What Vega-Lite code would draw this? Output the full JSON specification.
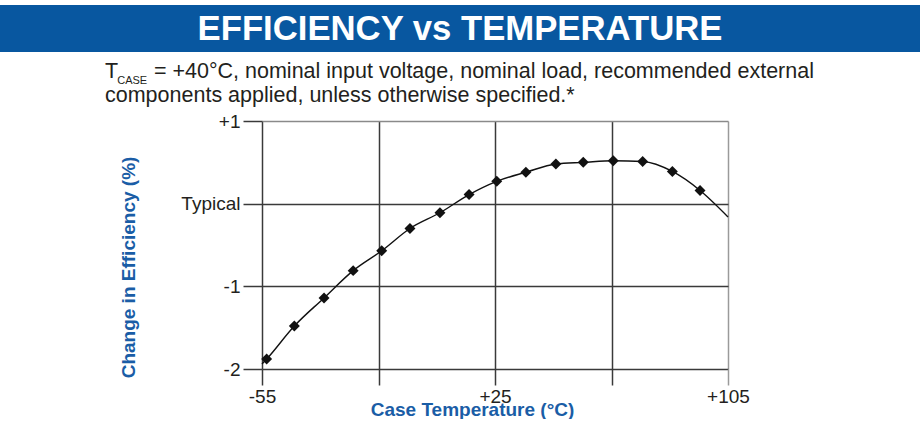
{
  "$schema": "https://vega.github.io/schema/vega-lite/v6.json",
  "background": "white",
  "padding": {"top": 5, "left": 0, "right": 0, "bottom": 0},
  "spacing": 8,
  "config": {"font": "Liberation Sans"},
  "datasets": {
    "curve": [
      {"temp": -55, "change": -1.94, "m": 0},
      {"temp": -53.4, "change": -1.88, "m": 1},
      {"temp": -43.9, "change": -1.48, "m": 1},
      {"temp": -33.7, "change": -1.14, "m": 1},
      {"temp": -23.7, "change": -0.81, "m": 1},
      {"temp": -13.9, "change": -0.57, "m": 1},
      {"temp": -4.2, "change": -0.30, "m": 1},
      {"temp": 6.1, "change": -0.11, "m": 1},
      {"temp": 16.1, "change": 0.11, "m": 1},
      {"temp": 25.6, "change": 0.27, "m": 1},
      {"temp": 35.6, "change": 0.38, "m": 1},
      {"temp": 45.9, "change": 0.48, "m": 1},
      {"temp": 55.3, "change": 0.50, "m": 1},
      {"temp": 65.6, "change": 0.52, "m": 1},
      {"temp": 75.7, "change": 0.51, "m": 1},
      {"temp": 85.9, "change": 0.39, "m": 1},
      {"temp": 95.4, "change": 0.16, "m": 1},
      {"temp": 105, "change": -0.16, "m": 0}
    ]
  },
  "vconcat": [
    {
      "width": 920,
      "height": 47,
      "view": {"fill": "#0857a0", "stroke": null},
      "data": {"values": [{"t": "EFFICIENCY vs TEMPERATURE"}]},
      "mark": {"type": "text", "font": "Liberation Sans", "fontSize": 34.7, "fontWeight": "bold", "color": "white", "align": "center", "baseline": "middle", "dy": 1},
      "encoding": {"text": {"field": "t", "type": "nominal"}}
    },
    {
      "spacing": 0,
      "hconcat": [
        {
          "width": 105,
          "height": 10,
          "view": {"stroke": null},
          "data": {"values": [{"t": ""}]},
          "mark": {"type": "text"},
          "encoding": {"text": {"field": "t", "type": "nominal"}}
        },
        {
          "width": 466,
          "height": 248,
          "view": {"stroke": null},
          "title": {
            "text": ["T\u00a0\u00a0\u00a0\u00a0\u00a0\u00a0= +40°C, nominal input voltage, nominal load, recommended external", "components applied, unless otherwise specified.*"],
            "subtitle": "\u200b\u00a0\u00a0\u00a0\u00a0CASE",
            "anchor": "start",
            "frame": "group",
            "dx": -157,
            "offset": 6,
            "font": "Liberation Sans",
            "fontSize": 21.5,
            "fontWeight": "normal",
            "color": "#231f20",
            "lineHeight": 24,
            "subtitleFont": "Liberation Sans",
            "subtitleFontSize": 11,
            "subtitleColor": "#231f20",
            "subtitlePadding": -31
          },
          "data": {"name": "curve"},
          "encoding": {
            "x": {
              "field": "temp", "type": "quantitative",
              "scale": {"domain": [-55, 105], "nice": false, "zero": false},
              "title": "Case Temperature (°C)",
              "axis": {
                "values": [-55, -15, 25, 65, 105],
                "labelExpr": "datum.value == -55 ? '-55' : datum.value == 25 ? '+25' : datum.value == 105 ? '+105' : ''",
                "grid": true,
                "gridColor": {"condition": {"test": "datum.value == 105", "value": "#9a9a9a"}, "value": "#3a3a3a"},
                "gridWidth": 1.5,
                "gridOpacity": 1,
                "domain": false,
                "ticks": true,
                "tickSize": 16,
                "tickWidth": 1.5,
                "tickColor": {"condition": {"test": "datum.value == 105", "value": "#9a9a9a"}, "value": "#3a3a3a"},
                "labelFontSize": 19,
                "labelColor": "#231f20",
                "labelPadding": 2,
                "labelFlush": false,
                "labelOverlap": false,
                "titleFontSize": 19,
                "titleFontWeight": "bold",
                "titleColor": "#1a5da6",
                "titleX": 210,
                "titleY": 31
              }
            },
            "y": {
              "field": "change", "type": "quantitative",
              "scale": {"domain": [-2, 1], "nice": false, "zero": false},
              "title": "Change in Efficiency (%)",
              "axis": {
                "values": [-2, -1, 0, 1],
                "labelExpr": "datum.value == 1 ? '+1' : datum.value == 0 ? 'Typical' : datum.value == -1 ? '-1' : '-2'",
                "grid": true,
                "gridColor": {"condition": {"test": "datum.value == 1", "value": "#8a8a8a"}, "value": "#3a3a3a"},
                "gridWidth": 1.5,
                "gridOpacity": 1,
                "domain": false,
                "ticks": true,
                "tickSize": 19,
                "tickWidth": 1.5,
                "tickColor": "#3a3a3a",
                "labelFontSize": 19,
                "labelColor": "#231f20",
                "labelPadding": 3,
                "titleFontSize": 19,
                "titleFontWeight": "bold",
                "titleColor": "#1a5da6",
                "titlePadding": 42,
                "titleY": 146
              }
            }
          },
          "layer": [
            {"mark": {"type": "line", "interpolate": "monotone", "color": "#111111", "strokeWidth": 1.4}},
            {
              "transform": [{"filter": "datum.m == 1"}],
              "mark": {"type": "point", "shape": "diamond", "filled": true, "size": 120, "color": "#111111", "opacity": 1}
            }
          ]
        }
      ]
    }
  ]
}
